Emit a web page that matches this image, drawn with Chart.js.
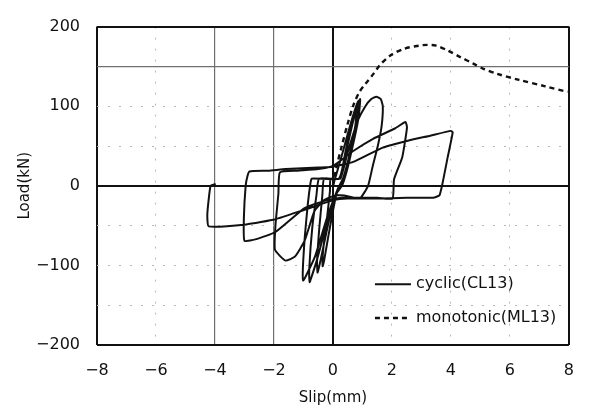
<!DOCTYPE html>
<html>
<head>
<meta charset="utf-8">
<script src="https://cdn.jsdelivr.net/npm/chart.js@4.4.1/dist/chart.umd.min.js"></script>
<style>
  html, body { margin: 0; padding: 0; background: #fff; }
  #wrap { width: 590px; height: 412px; }
</style>
</head>
<body>
<div id="wrap"><canvas id="c" width="590" height="412"></canvas></div>
<script>
// Series names
const seriesNames = ['cyclic(CL13)', 'monotonic(ML13)'];

// Cyclic test CL13: slip (mm) and load (kN), in loading order
const cyclicSlip = [
  0, 0.3, 0.6, 0.85, 0.8, 0.6, 0.35, 0.15,
  -0.2, -0.6, -0.9, -1.01, -1.02, -0.95, -0.85, -0.76, -0.72,
  0.2, 0.38, 0.64, 0.92, 0.87, 0.62, 0.36, 0.15,
  -0.2, -0.55, -0.74, -0.79, -0.8, -0.7, -0.56, -0.47,
  0.22, 0.42, 0.6, 0.82, 0.76, 0.52, 0.32, 0.12,
  -0.15, -0.4, -0.52, -0.54, -0.46, -0.36, -0.3,
  0.22, 0.42, 0.66, 0.88, 0.81, 0.56, 0.32, 0.12,
  -0.15, -0.3, -0.35, -0.33, -0.2, -0.1, -0.08,
  0.25, 0.5, 0.82, 1.1, 1.3, 1.47, 1.62, 1.69, 1.65, 1.52, 1.35, 1.19, 0.91, 0.5, 0.25,
  0.1, -0.3, -0.63, -0.96, -1.29, -1.6, -1.8, -1.97, -1.95, -1.85, -1.8,
  -1.2, -0.5, 0, 0.7, 1.36, 2.1, 2.46, 2.51, 2.35, 2.07, 2.02, 1.5, 0.9, 0.3,
  -0.2, -0.96, -1.95, -2.6, -3.0, -3.02, -2.96, -2.9, -2.83,
  -2.2, -1.6, -0.5, 0, 0.69, 1.69, 2.57, 3.3, 4.0, 4.06, 3.89, 3.72, 3.61, 3.4, 2.5, 1.5, 0.5,
  0.03, -0.96, -1.95, -2.94, -4.21, -4.26, -4.15, -4.0
];
const cyclicLoad = [
  0, 38, 78, 106, 82, 45, 10, -5,
  -40, -88, -112, -119, -104, -62, -22, 4, 9,
  9, 32, 75, 109, 86, 42, 6, -7,
  -46, -94, -116, -121, -102, -52, -12, 9,
  9, 38, 68, 102, 76, 32, 2, -9,
  -46, -90, -109, -95, -52, -12, 9,
  9, 42, 82, 107, 78, 32, 1, -10,
  -62, -94, -101, -80, -40, -6, 9,
  9, 42, 80, 100, 109, 112, 109, 100, 75, 50, 25, 0, -16, -13, -12,
  -12, -18, -32, -69, -89, -94, -88, -80, -50, -10, 17,
  19, 21, 25, 44, 59, 72, 80, 73, 36, 8, -16, -15, -15, -15,
  -18, -28, -58, -67, -69, -40, 0, 12, 18,
  19, 21, 23, 24, 30, 48, 57, 63, 69, 67, 36, 4, -12, -15, -15, -16, -16,
  -18, -30, -42, -48.5, -51, -36, 0, 2
];

// Monotonic test ML13
const monoSlip = [0, 0.1, 0.3, 0.5, 0.7, 0.9, 1.1, 1.36, 1.6, 1.96, 2.4, 2.9, 3.2, 3.5, 3.89, 4.3, 4.76, 5.1, 5.54, 6.31, 7.2, 7.95];
const monoLoad = [0, 20, 50, 78, 102, 118, 128, 140, 152, 164, 172, 176, 177, 176, 170, 162, 153.5, 147, 141, 133, 125, 118];

// Axis ranges and tick spacing
const slipRange = [-8, 8];
const loadRange = [-200, 200];
const slipStep = 2;
const loadStep = 50;
const loadLabelStep = 100;

const toPoints = (xs, ys) => xs.map((x, i) => ({ x: x, y: ys[i] }));
const fmt = v => (v < 0 ? '\u2212' + Math.abs(v) : String(v));
const FONT = "'DejaVu Sans', 'Liberation Sans', Arial, sans-serif";

// Grid styling per tick: frame edges and zero lines heavy, a few solid reference lines, rest dotted
function gridColor(strong, mid) {
  return ctx => {
    const v = ctx.tick ? ctx.tick.value : null;
    if (strong.includes(v)) return '#111';
    if (mid.includes(v)) return '#707070';
    return '#b8b8b8';
  };
}
function gridWidth(strong, mid) {
  return ctx => {
    const v = ctx.tick ? ctx.tick.value : null;
    if (strong.includes(v)) return 2;
    if (mid.includes(v)) return 1.2;
    return 1;
  };
}
function gridDash(strong, mid) {
  return ctx => {
    const v = ctx.tick ? ctx.tick.value : null;
    if (strong.includes(v) || mid.includes(v)) return [];
    return [2, 9];
  };
}

const xStrong = [-8, 0, 8], xMid = [-4, -2];
const yStrong = [-200, 0, 200], yMid = [150];

// Legend drawn inside the plot area, lower right
const insetLegend = {
  id: 'insetLegend',
  afterDatasetsDraw(chart) {
    const { ctx, chartArea: a } = chart;
    const w = a.right - a.left, h = a.bottom - a.top;
    const x0 = a.left + 0.589 * w;
    ctx.save();
    ctx.font = '16px ' + FONT;
    ctx.textBaseline = 'middle';
    ctx.fillStyle = '#111';
    chart.data.datasets.forEach((ds, i) => {
      const y = a.top + (0.809 + i * 0.106) * h;
      ctx.beginPath();
      ctx.strokeStyle = ds.borderColor;
      ctx.lineWidth = ds.borderWidth;
      ctx.setLineDash(ds.borderDash || []);
      ctx.moveTo(x0, y);
      ctx.lineTo(x0 + 36, y);
      ctx.stroke();
      ctx.setLineDash([]);
      ctx.fillText(ds.label, x0 + 41, y);
    });
    ctx.restore();
  }
};

new Chart(document.getElementById('c'), {
  type: 'scatter',
  data: {
    datasets: [
      {
        label: seriesNames[0],
        data: toPoints(cyclicSlip, cyclicLoad),
        showLine: true,
        borderColor: '#111',
        borderWidth: 2,
        borderJoinStyle: 'round',
        borderCapStyle: 'round',
        pointRadius: 0,
        tension: 0.15,
        fill: false
      },
      {
        label: seriesNames[1],
        data: toPoints(monoSlip, monoLoad),
        showLine: true,
        borderColor: '#111',
        borderWidth: 2.4,
        borderDash: [5, 4],
        pointRadius: 0,
        tension: 0.3,
        fill: false
      }
    ]
  },
  options: {
    responsive: false,
    animation: false,
    devicePixelRatio: 1,
    layout: { padding: { top: 15, right: 9, left: 0, bottom: 0 } },
    plugins: {
      legend: { display: false },
      tooltip: { enabled: false }
    },
    scales: {
      x: {
        type: 'linear',
        min: slipRange[0],
        max: slipRange[1],
        afterFit: s => { s.height = 67; },
        ticks: {
          stepSize: slipStep,
          padding: 16,
          color: '#111',
          font: { family: FONT, size: 16 },
          callback: v => fmt(v)
        },
        grid: {
          drawTicks: false,
          color: gridColor(xStrong, xMid),
          lineWidth: gridWidth(xStrong, xMid)
        },
        border: { display: false, dash: gridDash(xStrong, xMid) },
        title: {
          display: true,
          text: 'Slip(mm)',
          color: '#111',
          font: { family: FONT, size: 15 },
          padding: { top: 0, bottom: 5 }
        }
      },
      y: {
        type: 'linear',
        min: loadRange[0],
        max: loadRange[1],
        afterFit: s => { s.width = 97; },
        ticks: {
          stepSize: loadStep,
          padding: 17,
          color: '#111',
          font: { family: FONT, size: 16 },
          callback: v => (v % loadLabelStep === 0 ? fmt(v) : '')
        },
        grid: {
          drawTicks: false,
          color: gridColor(yStrong, yMid),
          lineWidth: gridWidth(yStrong, yMid)
        },
        border: { display: false, dash: gridDash(yStrong, yMid) },
        title: {
          display: true,
          text: 'Load(kN)',
          color: '#111',
          font: { family: FONT, size: 15 },
          padding: { top: 16, bottom: 0 }
        }
      }
    }
  },
  plugins: [insetLegend]
});
</script>
</body>
</html>
